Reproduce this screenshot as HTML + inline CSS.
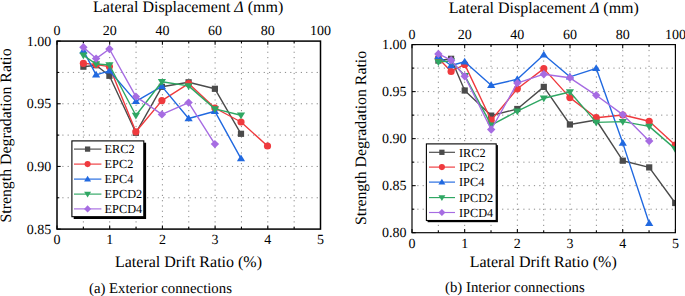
<!DOCTYPE html><html><head><meta charset="utf-8"><style>html,body{margin:0;padding:0;background:#fff;overflow:hidden;}svg{display:block}text{font-family:"Liberation Serif",serif;fill:#000;text-rendering:geometricPrecision}</style></head><body>
<svg width="685" height="296" viewBox="0 0 685 296">
<g stroke="#8a8a8a" stroke-width="1" stroke-dasharray="1.2 4.1"><line x1="83.35" y1="41.1" x2="83.35" y2="229.1"/><line x1="109.70" y1="41.1" x2="109.70" y2="229.1"/><line x1="136.05" y1="41.1" x2="136.05" y2="229.1"/><line x1="162.40" y1="41.1" x2="162.40" y2="229.1"/><line x1="188.75" y1="41.1" x2="188.75" y2="229.1"/><line x1="215.10" y1="41.1" x2="215.10" y2="229.1"/><line x1="241.45" y1="41.1" x2="241.45" y2="229.1"/><line x1="267.80" y1="41.1" x2="267.80" y2="229.1"/><line x1="294.15" y1="41.1" x2="294.15" y2="229.1"/><line x1="57" y1="197.77" x2="320.5" y2="197.77"/><line x1="57" y1="166.43" x2="320.5" y2="166.43"/><line x1="57" y1="135.10" x2="320.5" y2="135.10"/><line x1="57" y1="103.77" x2="320.5" y2="103.77"/><line x1="57" y1="72.43" x2="320.5" y2="72.43"/></g>
<g stroke="#000" stroke-width="1.05"><line x1="57.00" y1="229.1" x2="57.00" y2="225.4"/><line x1="57.00" y1="41.1" x2="57.00" y2="44.800000000000004"/><line x1="83.35" y1="229.1" x2="83.35" y2="226.79999999999998"/><line x1="83.35" y1="41.1" x2="83.35" y2="43.4"/><line x1="109.70" y1="229.1" x2="109.70" y2="225.4"/><line x1="109.70" y1="41.1" x2="109.70" y2="44.800000000000004"/><line x1="136.05" y1="229.1" x2="136.05" y2="226.79999999999998"/><line x1="136.05" y1="41.1" x2="136.05" y2="43.4"/><line x1="162.40" y1="229.1" x2="162.40" y2="225.4"/><line x1="162.40" y1="41.1" x2="162.40" y2="44.800000000000004"/><line x1="188.75" y1="229.1" x2="188.75" y2="226.79999999999998"/><line x1="188.75" y1="41.1" x2="188.75" y2="43.4"/><line x1="215.10" y1="229.1" x2="215.10" y2="225.4"/><line x1="215.10" y1="41.1" x2="215.10" y2="44.800000000000004"/><line x1="241.45" y1="229.1" x2="241.45" y2="226.79999999999998"/><line x1="241.45" y1="41.1" x2="241.45" y2="43.4"/><line x1="267.80" y1="229.1" x2="267.80" y2="225.4"/><line x1="267.80" y1="41.1" x2="267.80" y2="44.800000000000004"/><line x1="294.15" y1="229.1" x2="294.15" y2="226.79999999999998"/><line x1="294.15" y1="41.1" x2="294.15" y2="43.4"/><line x1="320.50" y1="229.1" x2="320.50" y2="225.4"/><line x1="320.50" y1="41.1" x2="320.50" y2="44.800000000000004"/><line x1="57" y1="229.10" x2="60.7" y2="229.10"/><line x1="57" y1="197.77" x2="59.3" y2="197.77"/><line x1="57" y1="166.43" x2="60.7" y2="166.43"/><line x1="57" y1="135.10" x2="59.3" y2="135.10"/><line x1="57" y1="103.77" x2="60.7" y2="103.77"/><line x1="57" y1="72.43" x2="59.3" y2="72.43"/><line x1="57" y1="41.10" x2="60.7" y2="41.10"/></g>
<clipPath id="cl"><rect x="57" y="41.1" width="263.5" height="188.0"/></clipPath>
<g clip-path="url(#cl)"><polyline points="83.40,66.70 96.10,65.20 109.40,75.80 135.90,132.80 161.90,86.80 188.60,82.30 214.90,88.80 241.00,133.80" fill="none" stroke="#4b4b4b" stroke-width="1.4" stroke-linejoin="round"/><rect x="80.30" y="63.60" width="6.20" height="6.20" fill="#4b4b4b"/><rect x="93.00" y="62.10" width="6.20" height="6.20" fill="#4b4b4b"/><rect x="106.30" y="72.70" width="6.20" height="6.20" fill="#4b4b4b"/><rect x="132.80" y="129.70" width="6.20" height="6.20" fill="#4b4b4b"/><rect x="158.80" y="83.70" width="6.20" height="6.20" fill="#4b4b4b"/><rect x="185.50" y="79.20" width="6.20" height="6.20" fill="#4b4b4b"/><rect x="211.80" y="85.70" width="6.20" height="6.20" fill="#4b4b4b"/><rect x="237.90" y="130.70" width="6.20" height="6.20" fill="#4b4b4b"/><polyline points="83.40,63.30 96.10,64.60 109.40,66.60 135.90,131.80 161.90,100.60 188.60,83.60 214.90,108.00 241.00,122.00 267.50,146.00" fill="none" stroke="#ef3a3e" stroke-width="1.4" stroke-linejoin="round"/><circle cx="83.40" cy="63.30" r="3.60" fill="#ef3a3e"/><circle cx="96.10" cy="64.60" r="3.60" fill="#ef3a3e"/><circle cx="109.40" cy="66.60" r="3.60" fill="#ef3a3e"/><circle cx="135.90" cy="131.80" r="3.60" fill="#ef3a3e"/><circle cx="161.90" cy="100.60" r="3.60" fill="#ef3a3e"/><circle cx="188.60" cy="83.60" r="3.60" fill="#ef3a3e"/><circle cx="214.90" cy="108.00" r="3.60" fill="#ef3a3e"/><circle cx="241.00" cy="122.00" r="3.60" fill="#ef3a3e"/><circle cx="267.50" cy="146.00" r="3.60" fill="#ef3a3e"/><polyline points="83.40,50.70 96.10,74.80 109.40,70.80 135.90,101.40 161.90,86.40 188.60,118.50 214.90,111.30 241.00,158.60" fill="none" stroke="#2169e0" stroke-width="1.4" stroke-linejoin="round"/><path d="M83.40,46.70 L87.50,53.40 L79.30,53.40Z" fill="#2169e0"/><path d="M96.10,70.80 L100.20,77.50 L92.00,77.50Z" fill="#2169e0"/><path d="M109.40,66.80 L113.50,73.50 L105.30,73.50Z" fill="#2169e0"/><path d="M135.90,97.40 L140.00,104.10 L131.80,104.10Z" fill="#2169e0"/><path d="M161.90,82.40 L166.00,89.10 L157.80,89.10Z" fill="#2169e0"/><path d="M188.60,114.50 L192.70,121.20 L184.50,121.20Z" fill="#2169e0"/><path d="M214.90,107.30 L219.00,114.00 L210.80,114.00Z" fill="#2169e0"/><path d="M241.00,154.60 L245.10,161.30 L236.90,161.30Z" fill="#2169e0"/><polyline points="83.40,55.30 96.10,64.00 109.40,65.00 135.90,115.50 161.90,81.80 188.60,85.90 214.90,108.90 241.00,115.30" fill="none" stroke="#2fa763" stroke-width="1.4" stroke-linejoin="round"/><path d="M83.40,59.30 L87.50,52.60 L79.30,52.60Z" fill="#2fa763"/><path d="M96.10,68.00 L100.20,61.30 L92.00,61.30Z" fill="#2fa763"/><path d="M109.40,69.00 L113.50,62.30 L105.30,62.30Z" fill="#2fa763"/><path d="M135.90,119.50 L140.00,112.80 L131.80,112.80Z" fill="#2fa763"/><path d="M161.90,85.80 L166.00,79.10 L157.80,79.10Z" fill="#2fa763"/><path d="M188.60,89.90 L192.70,83.20 L184.50,83.20Z" fill="#2fa763"/><path d="M214.90,112.90 L219.00,106.20 L210.80,106.20Z" fill="#2fa763"/><path d="M241.00,119.30 L245.10,112.60 L236.90,112.60Z" fill="#2fa763"/><polyline points="83.40,47.30 96.10,58.60 109.40,49.00 135.90,96.60 161.90,114.40 188.60,102.60 214.90,144.10" fill="none" stroke="#a66ce2" stroke-width="1.4" stroke-linejoin="round"/><path d="M83.40,43.10 L87.60,47.30 L83.40,51.50 L79.20,47.30Z" fill="#a66ce2"/><path d="M96.10,54.40 L100.30,58.60 L96.10,62.80 L91.90,58.60Z" fill="#a66ce2"/><path d="M109.40,44.80 L113.60,49.00 L109.40,53.20 L105.20,49.00Z" fill="#a66ce2"/><path d="M135.90,92.40 L140.10,96.60 L135.90,100.80 L131.70,96.60Z" fill="#a66ce2"/><path d="M161.90,110.20 L166.10,114.40 L161.90,118.60 L157.70,114.40Z" fill="#a66ce2"/><path d="M188.60,98.40 L192.80,102.60 L188.60,106.80 L184.40,102.60Z" fill="#a66ce2"/><path d="M214.90,139.90 L219.10,144.10 L214.90,148.30 L210.70,144.10Z" fill="#a66ce2"/></g>
<rect x="57" y="41.1" width="263.5" height="188.0" fill="none" stroke="#000" stroke-width="1.5"/>
<g stroke="#8a8a8a" stroke-width="1" stroke-dasharray="1.2 4.1"><line x1="438.34" y1="44.6" x2="438.34" y2="232.7"/><line x1="464.68" y1="44.6" x2="464.68" y2="232.7"/><line x1="491.02" y1="44.6" x2="491.02" y2="232.7"/><line x1="517.36" y1="44.6" x2="517.36" y2="232.7"/><line x1="543.70" y1="44.6" x2="543.70" y2="232.7"/><line x1="570.04" y1="44.6" x2="570.04" y2="232.7"/><line x1="596.38" y1="44.6" x2="596.38" y2="232.7"/><line x1="622.72" y1="44.6" x2="622.72" y2="232.7"/><line x1="649.06" y1="44.6" x2="649.06" y2="232.7"/><line x1="412" y1="209.19" x2="675.4" y2="209.19"/><line x1="412" y1="185.67" x2="675.4" y2="185.67"/><line x1="412" y1="162.16" x2="675.4" y2="162.16"/><line x1="412" y1="138.65" x2="675.4" y2="138.65"/><line x1="412" y1="115.14" x2="675.4" y2="115.14"/><line x1="412" y1="91.62" x2="675.4" y2="91.62"/><line x1="412" y1="68.11" x2="675.4" y2="68.11"/></g>
<g stroke="#000" stroke-width="1.05"><line x1="412.00" y1="232.7" x2="412.00" y2="229.0"/><line x1="412.00" y1="44.6" x2="412.00" y2="48.300000000000004"/><line x1="438.34" y1="232.7" x2="438.34" y2="230.39999999999998"/><line x1="438.34" y1="44.6" x2="438.34" y2="46.9"/><line x1="464.68" y1="232.7" x2="464.68" y2="229.0"/><line x1="464.68" y1="44.6" x2="464.68" y2="48.300000000000004"/><line x1="491.02" y1="232.7" x2="491.02" y2="230.39999999999998"/><line x1="491.02" y1="44.6" x2="491.02" y2="46.9"/><line x1="517.36" y1="232.7" x2="517.36" y2="229.0"/><line x1="517.36" y1="44.6" x2="517.36" y2="48.300000000000004"/><line x1="543.70" y1="232.7" x2="543.70" y2="230.39999999999998"/><line x1="543.70" y1="44.6" x2="543.70" y2="46.9"/><line x1="570.04" y1="232.7" x2="570.04" y2="229.0"/><line x1="570.04" y1="44.6" x2="570.04" y2="48.300000000000004"/><line x1="596.38" y1="232.7" x2="596.38" y2="230.39999999999998"/><line x1="596.38" y1="44.6" x2="596.38" y2="46.9"/><line x1="622.72" y1="232.7" x2="622.72" y2="229.0"/><line x1="622.72" y1="44.6" x2="622.72" y2="48.300000000000004"/><line x1="649.06" y1="232.7" x2="649.06" y2="230.39999999999998"/><line x1="649.06" y1="44.6" x2="649.06" y2="46.9"/><line x1="675.40" y1="232.7" x2="675.40" y2="229.0"/><line x1="675.40" y1="44.6" x2="675.40" y2="48.300000000000004"/><line x1="412" y1="232.70" x2="415.7" y2="232.70"/><line x1="412" y1="209.19" x2="414.3" y2="209.19"/><line x1="412" y1="185.67" x2="415.7" y2="185.67"/><line x1="412" y1="162.16" x2="414.3" y2="162.16"/><line x1="412" y1="138.65" x2="415.7" y2="138.65"/><line x1="412" y1="115.14" x2="414.3" y2="115.14"/><line x1="412" y1="91.62" x2="415.7" y2="91.62"/><line x1="412" y1="68.11" x2="414.3" y2="68.11"/><line x1="412" y1="44.60" x2="415.7" y2="44.60"/></g>
<clipPath id="cr"><rect x="412" y="44.6" width="263.4" height="188.1"/></clipPath>
<g clip-path="url(#cr)"><polyline points="438.40,60.60 451.10,58.80 464.70,90.50 491.20,115.60 517.30,109.00 543.80,86.90 569.90,124.50 596.20,120.00 622.80,160.70 649.20,167.40 675.20,203.00" fill="none" stroke="#4b4b4b" stroke-width="1.4" stroke-linejoin="round"/><rect x="435.30" y="57.50" width="6.20" height="6.20" fill="#4b4b4b"/><rect x="448.00" y="55.70" width="6.20" height="6.20" fill="#4b4b4b"/><rect x="461.60" y="87.40" width="6.20" height="6.20" fill="#4b4b4b"/><rect x="488.10" y="112.50" width="6.20" height="6.20" fill="#4b4b4b"/><rect x="514.20" y="105.90" width="6.20" height="6.20" fill="#4b4b4b"/><rect x="540.70" y="83.80" width="6.20" height="6.20" fill="#4b4b4b"/><rect x="566.80" y="121.40" width="6.20" height="6.20" fill="#4b4b4b"/><rect x="593.10" y="116.90" width="6.20" height="6.20" fill="#4b4b4b"/><rect x="619.70" y="157.60" width="6.20" height="6.20" fill="#4b4b4b"/><rect x="646.10" y="164.30" width="6.20" height="6.20" fill="#4b4b4b"/><rect x="672.10" y="199.90" width="6.20" height="6.20" fill="#4b4b4b"/><polyline points="438.40,58.20 451.10,71.50 464.70,64.40 491.20,120.20 517.30,88.80 543.80,68.60 569.90,97.60 596.20,117.70 622.80,115.00 649.20,121.30 675.20,145.00" fill="none" stroke="#ef3a3e" stroke-width="1.4" stroke-linejoin="round"/><circle cx="438.40" cy="58.20" r="3.60" fill="#ef3a3e"/><circle cx="451.10" cy="71.50" r="3.60" fill="#ef3a3e"/><circle cx="464.70" cy="64.40" r="3.60" fill="#ef3a3e"/><circle cx="491.20" cy="120.20" r="3.60" fill="#ef3a3e"/><circle cx="517.30" cy="88.80" r="3.60" fill="#ef3a3e"/><circle cx="543.80" cy="68.60" r="3.60" fill="#ef3a3e"/><circle cx="569.90" cy="97.60" r="3.60" fill="#ef3a3e"/><circle cx="596.20" cy="117.70" r="3.60" fill="#ef3a3e"/><circle cx="622.80" cy="115.00" r="3.60" fill="#ef3a3e"/><circle cx="649.20" cy="121.30" r="3.60" fill="#ef3a3e"/><circle cx="675.20" cy="145.00" r="3.60" fill="#ef3a3e"/><polyline points="438.40,56.20 451.10,65.50 464.70,61.80 491.20,85.20 517.30,79.30 543.80,54.70 569.90,76.80 596.20,68.30 622.80,143.10 649.20,223.20" fill="none" stroke="#2169e0" stroke-width="1.4" stroke-linejoin="round"/><path d="M438.40,52.20 L442.50,58.90 L434.30,58.90Z" fill="#2169e0"/><path d="M451.10,61.50 L455.20,68.20 L447.00,68.20Z" fill="#2169e0"/><path d="M464.70,57.80 L468.80,64.50 L460.60,64.50Z" fill="#2169e0"/><path d="M491.20,81.20 L495.30,87.90 L487.10,87.90Z" fill="#2169e0"/><path d="M517.30,75.30 L521.40,82.00 L513.20,82.00Z" fill="#2169e0"/><path d="M543.80,50.70 L547.90,57.40 L539.70,57.40Z" fill="#2169e0"/><path d="M569.90,72.80 L574.00,79.50 L565.80,79.50Z" fill="#2169e0"/><path d="M596.20,64.30 L600.30,71.00 L592.10,71.00Z" fill="#2169e0"/><path d="M622.80,139.10 L626.90,145.80 L618.70,145.80Z" fill="#2169e0"/><path d="M649.20,219.20 L653.30,225.90 L645.10,225.90Z" fill="#2169e0"/><polyline points="438.40,61.90 451.10,61.00 464.90,75.80 491.20,125.20 517.30,111.20 543.80,98.30 569.90,92.00 596.20,122.40 622.80,121.60 649.20,126.40 675.20,148.90" fill="none" stroke="#2fa763" stroke-width="1.4" stroke-linejoin="round"/><path d="M438.40,65.90 L442.50,59.20 L434.30,59.20Z" fill="#2fa763"/><path d="M451.10,65.00 L455.20,58.30 L447.00,58.30Z" fill="#2fa763"/><path d="M464.90,79.80 L469.00,73.10 L460.80,73.10Z" fill="#2fa763"/><path d="M491.20,129.20 L495.30,122.50 L487.10,122.50Z" fill="#2fa763"/><path d="M517.30,115.20 L521.40,108.50 L513.20,108.50Z" fill="#2fa763"/><path d="M543.80,102.30 L547.90,95.60 L539.70,95.60Z" fill="#2fa763"/><path d="M569.90,96.00 L574.00,89.30 L565.80,89.30Z" fill="#2fa763"/><path d="M596.20,126.40 L600.30,119.70 L592.10,119.70Z" fill="#2fa763"/><path d="M622.80,125.60 L626.90,118.90 L618.70,118.90Z" fill="#2fa763"/><path d="M649.20,130.40 L653.30,123.70 L645.10,123.70Z" fill="#2fa763"/><path d="M675.20,152.90 L679.30,146.20 L671.10,146.20Z" fill="#2fa763"/><polyline points="438.40,53.90 451.10,60.20 464.70,76.20 491.20,129.50 517.30,83.10 543.80,74.20 569.90,77.80 596.20,95.30 622.80,114.60 649.20,141.00" fill="none" stroke="#a66ce2" stroke-width="1.4" stroke-linejoin="round"/><path d="M438.40,49.70 L442.60,53.90 L438.40,58.10 L434.20,53.90Z" fill="#a66ce2"/><path d="M451.10,56.00 L455.30,60.20 L451.10,64.40 L446.90,60.20Z" fill="#a66ce2"/><path d="M464.70,72.00 L468.90,76.20 L464.70,80.40 L460.50,76.20Z" fill="#a66ce2"/><path d="M491.20,125.30 L495.40,129.50 L491.20,133.70 L487.00,129.50Z" fill="#a66ce2"/><path d="M517.30,78.90 L521.50,83.10 L517.30,87.30 L513.10,83.10Z" fill="#a66ce2"/><path d="M543.80,70.00 L548.00,74.20 L543.80,78.40 L539.60,74.20Z" fill="#a66ce2"/><path d="M569.90,73.60 L574.10,77.80 L569.90,82.00 L565.70,77.80Z" fill="#a66ce2"/><path d="M596.20,91.10 L600.40,95.30 L596.20,99.50 L592.00,95.30Z" fill="#a66ce2"/><path d="M622.80,110.40 L627.00,114.60 L622.80,118.80 L618.60,114.60Z" fill="#a66ce2"/><path d="M649.20,136.80 L653.40,141.00 L649.20,145.20 L645.00,141.00Z" fill="#a66ce2"/></g>
<rect x="412" y="44.6" width="263.4" height="188.1" fill="none" stroke="#000" stroke-width="1.15"/>
<text x="188.2" y="12" font-size="16" text-anchor="middle" >Lateral Displacement <tspan font-style="italic">Δ</tspan> (mm)</text>
<text x="543.8" y="13.2" font-size="16" text-anchor="middle" >Lateral Displacement <tspan font-style="italic">Δ</tspan> (mm)</text>
<text x="57.0" y="35.4" font-size="14" text-anchor="middle" >0</text>
<text x="412.0" y="38.7" font-size="14" text-anchor="middle" >0</text>
<text x="109.7" y="35.4" font-size="14" text-anchor="middle" >20</text>
<text x="464.68" y="38.7" font-size="14" text-anchor="middle" >20</text>
<text x="162.4" y="35.4" font-size="14" text-anchor="middle" >40</text>
<text x="517.36" y="38.7" font-size="14" text-anchor="middle" >40</text>
<text x="215.1" y="35.4" font-size="14" text-anchor="middle" >60</text>
<text x="570.04" y="38.7" font-size="14" text-anchor="middle" >60</text>
<text x="267.8" y="35.4" font-size="14" text-anchor="middle" >80</text>
<text x="622.72" y="38.7" font-size="14" text-anchor="middle" >80</text>
<text x="320.5" y="35.4" font-size="14" text-anchor="middle" >100</text>
<text x="675.4" y="38.7" font-size="14" text-anchor="middle" >100</text>
<text x="57.0" y="244.2" font-size="14" text-anchor="middle" >0</text>
<text x="412.0" y="247.9" font-size="14" text-anchor="middle" >0</text>
<text x="109.7" y="244.2" font-size="14" text-anchor="middle" >1</text>
<text x="464.68" y="247.9" font-size="14" text-anchor="middle" >1</text>
<text x="162.4" y="244.2" font-size="14" text-anchor="middle" >2</text>
<text x="517.36" y="247.9" font-size="14" text-anchor="middle" >2</text>
<text x="215.1" y="244.2" font-size="14" text-anchor="middle" >3</text>
<text x="570.04" y="247.9" font-size="14" text-anchor="middle" >3</text>
<text x="267.8" y="244.2" font-size="14" text-anchor="middle" >4</text>
<text x="622.72" y="247.9" font-size="14" text-anchor="middle" >4</text>
<text x="320.5" y="244.2" font-size="14" text-anchor="middle" >5</text>
<text x="675.4" y="247.9" font-size="14" text-anchor="middle" >5</text>
<text x="51.3" y="233.5" font-size="14" text-anchor="end" >0.85</text>
<text x="51.3" y="170.83333333333334" font-size="14" text-anchor="end" >0.90</text>
<text x="51.3" y="108.16666666666667" font-size="14" text-anchor="end" >0.95</text>
<text x="51.3" y="45.49999999999999" font-size="14" text-anchor="end" >1.00</text>
<text x="406.6" y="237.1" font-size="14" text-anchor="end" >0.80</text>
<text x="406.6" y="190.075" font-size="14" text-anchor="end" >0.85</text>
<text x="406.6" y="143.04999999999998" font-size="14" text-anchor="end" >0.90</text>
<text x="406.6" y="96.025" font-size="14" text-anchor="end" >0.95</text>
<text x="406.6" y="48.99999999999999" font-size="14" text-anchor="end" >1.00</text>
<text x="188.5" y="266.8" font-size="16" text-anchor="middle" >Lateral Drift Ratio (%)</text>
<text x="543.2" y="266.5" font-size="16" text-anchor="middle" >Lateral Drift Ratio (%)</text>
<text x="160.45" y="293.1" font-size="14.8" text-anchor="middle" >(a) Exterior connections</text>
<text x="514.9" y="292.3" font-size="14.8" text-anchor="middle" >(b) Interior connections</text>
<text transform="translate(10.6,135.45) rotate(-90)" font-size="15.85" text-anchor="middle">Strength Degradation Ratio</text>
<text transform="translate(365.8,137.95) rotate(-90)" font-size="15.85" text-anchor="middle">Strength Degradation Ratio</text>
<rect x="73.7" y="142.70000000000002" width="72.4" height="76.29999999999998" fill="#000"/>
<rect x="71.9" y="140.9" width="71.9" height="75.79999999999998" fill="#fff" stroke="#000" stroke-width="1.1"/>
<line x1="74" y1="149.1" x2="101.4" y2="149.1" stroke="#4b4b4b" stroke-width="1.15"/>
<rect x="84.96" y="146.47" width="5.27" height="5.27" fill="#4b4b4b"/>
<text x="104.6" y="153.29999999999998" font-size="12.3">ERC2</text>
<line x1="74" y1="164.1" x2="101.4" y2="164.1" stroke="#ef3a3e" stroke-width="1.15"/>
<circle cx="87.60" cy="164.10" r="3.06" fill="#ef3a3e"/>
<text x="104.6" y="168.29999999999998" font-size="12.3">EPC2</text>
<line x1="74" y1="179.1" x2="101.4" y2="179.1" stroke="#2169e0" stroke-width="1.15"/>
<path d="M87.60,175.70 L91.08,181.39 L84.11,181.39Z" fill="#2169e0"/>
<text x="104.6" y="183.29999999999998" font-size="12.3">EPC4</text>
<line x1="74" y1="194.1" x2="101.4" y2="194.1" stroke="#2fa763" stroke-width="1.15"/>
<path d="M87.60,197.50 L91.08,191.81 L84.11,191.81Z" fill="#2fa763"/>
<text x="104.6" y="198.29999999999998" font-size="12.3">EPCD2</text>
<line x1="74" y1="208.9" x2="101.4" y2="208.9" stroke="#a66ce2" stroke-width="1.15"/>
<path d="M87.60,205.33 L91.17,208.90 L87.60,212.47 L84.03,208.90Z" fill="#a66ce2"/>
<text x="104.6" y="213.1" font-size="12.3">EPCD4</text>
<rect x="427.59999999999997" y="145.1" width="70.30000000000001" height="77.1" fill="#000"/>
<rect x="426.4" y="143.9" width="69.80000000000001" height="76.6" fill="#fff" stroke="#000" stroke-width="1.1"/>
<line x1="429" y1="152.3" x2="455" y2="152.3" stroke="#4b4b4b" stroke-width="1.15"/>
<rect x="439.26" y="149.67" width="5.27" height="5.27" fill="#4b4b4b"/>
<text x="459" y="156.5" font-size="12.3">IRC2</text>
<line x1="429" y1="167.1" x2="455" y2="167.1" stroke="#ef3a3e" stroke-width="1.15"/>
<circle cx="441.90" cy="167.10" r="3.06" fill="#ef3a3e"/>
<text x="459" y="171.29999999999998" font-size="12.3">IPC2</text>
<line x1="429" y1="182.1" x2="455" y2="182.1" stroke="#2169e0" stroke-width="1.15"/>
<path d="M441.90,178.70 L445.38,184.39 L438.41,184.39Z" fill="#2169e0"/>
<text x="459" y="186.29999999999998" font-size="12.3">IPC4</text>
<line x1="429" y1="197.6" x2="455" y2="197.6" stroke="#2fa763" stroke-width="1.15"/>
<path d="M441.90,201.00 L445.38,195.31 L438.41,195.31Z" fill="#2fa763"/>
<text x="459" y="201.79999999999998" font-size="12.3">IPCD2</text>
<line x1="429" y1="212.5" x2="455" y2="212.5" stroke="#a66ce2" stroke-width="1.15"/>
<path d="M441.90,208.93 L445.47,212.50 L441.90,216.07 L438.33,212.50Z" fill="#a66ce2"/>
<text x="459" y="216.7" font-size="12.3">IPCD4</text>
</svg></body></html>
